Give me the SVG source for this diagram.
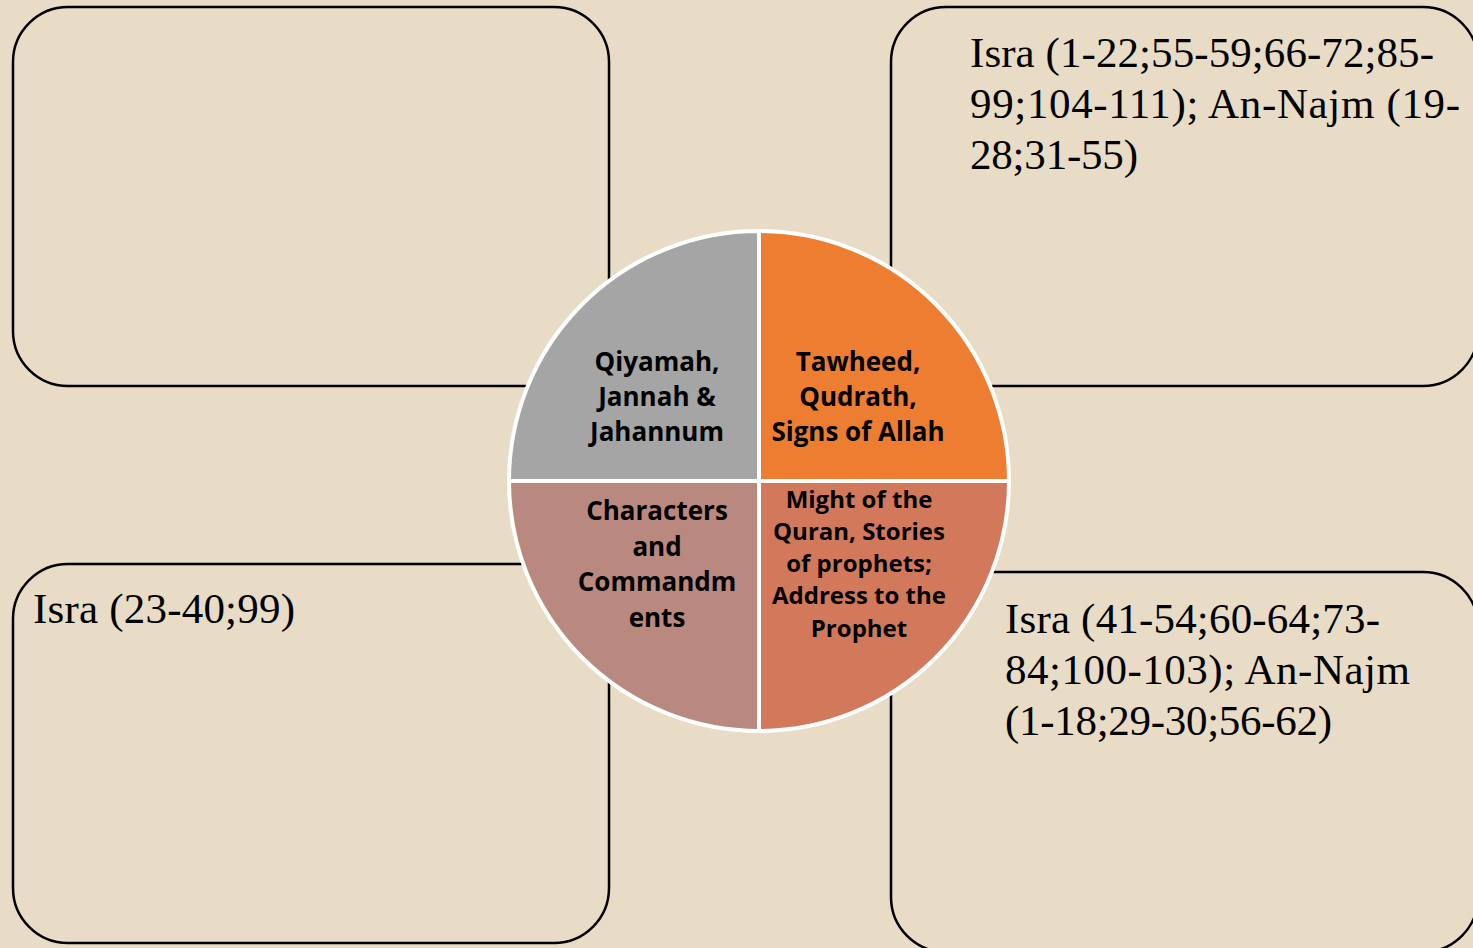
<svg xmlns="http://www.w3.org/2000/svg" width="1473" height="948" viewBox="0 0 1473 948">
<style>
.box{fill:none;stroke:#000;stroke-width:2.5}
.ref{font-family:"Liberation Serif","DejaVu Serif",serif;font-size:43px;fill:#000}
.seg{stroke:#fff;stroke-width:4;stroke-linejoin:round}
.lbl{font-family:"Open Sans","Noto Sans",sans-serif;font-weight:700;font-size:26px;fill:#000;text-anchor:middle}
.lbl.sm{font-size:24px}
</style>
<rect width="1473" height="948" fill="#E8DCC6"/>
<g id="box-top-left"><rect class="box" x="13" y="7" width="596" height="379" rx="55" ry="55"/></g>
<g id="box-top-right"><rect class="box" x="891" y="7" width="587" height="379" rx="55" ry="55"/>
<text class="ref" x="970" y="67" textLength="464" lengthAdjust="spacing">Isra (1-22;55-59;66-72;85-</text>
<text class="ref" x="970" y="118" textLength="490" lengthAdjust="spacing">99;104-111); An-Najm (19-</text>
<text class="ref" x="970" y="169" textLength="168" lengthAdjust="spacing">28;31-55)</text></g>
<g id="box-bottom-left"><rect class="box" x="13" y="564" width="596" height="379" rx="55" ry="55"/>
<text class="ref" x="33" y="623" textLength="262" lengthAdjust="spacing">Isra (23-40;99)</text></g>
<g id="box-bottom-right"><rect class="box" x="891" y="572" width="587" height="380" rx="55" ry="55"/>
<text class="ref" x="1005" y="633" textLength="375" lengthAdjust="spacing">Isra (41-54;60-64;73-</text>
<text class="ref" x="1005" y="684" textLength="405" lengthAdjust="spacing">84;100-103); An-Najm</text>
<text class="ref" x="1005" y="735" textLength="327" lengthAdjust="spacing">(1-18;29-30;56-62)</text></g>
<g id="circle">
<g id="q-top-left"><path class="seg" fill="#A5A5A5" d="M759,481 L509,481 A250,250 0 0 1 759,231 Z"/>
<text class="lbl"><tspan x="657" y="371">Qiyamah,</tspan><tspan x="657" y="406">Jannah &amp;</tspan><tspan x="657" y="441">Jahannum</tspan></text></g>
<g id="q-top-right"><path class="seg" fill="#ED7D31" d="M759,481 L759,231 A250,250 0 0 1 1009,481 Z"/>
<text class="lbl"><tspan x="858" y="371">Tawheed,</tspan><tspan x="858" y="406">Qudrath,</tspan><tspan x="858" y="441">Signs of Allah</tspan></text></g>
<g id="q-bottom-right"><path class="seg" fill="#D3795B" d="M759,481 L1009,481 A250,250 0 0 1 759,731 Z"/>
<text class="lbl sm"><tspan x="859" y="508">Might of the</tspan><tspan x="859" y="540">Quran, Stories</tspan><tspan x="859" y="572">of prophets;</tspan><tspan x="859" y="604">Address to the</tspan><tspan x="859" y="637">Prophet</tspan></text></g>
<g id="q-bottom-left"><path class="seg" fill="#B9897F" d="M759,481 L759,731 A250,250 0 0 1 509,481 Z"/>
<text class="lbl"><tspan x="657" y="520">Characters</tspan><tspan x="657" y="556">and</tspan><tspan x="657" y="591">Commandm</tspan><tspan x="657" y="627">ents</tspan></text></g>
</g>
<g id="connectors"/>
</svg>
